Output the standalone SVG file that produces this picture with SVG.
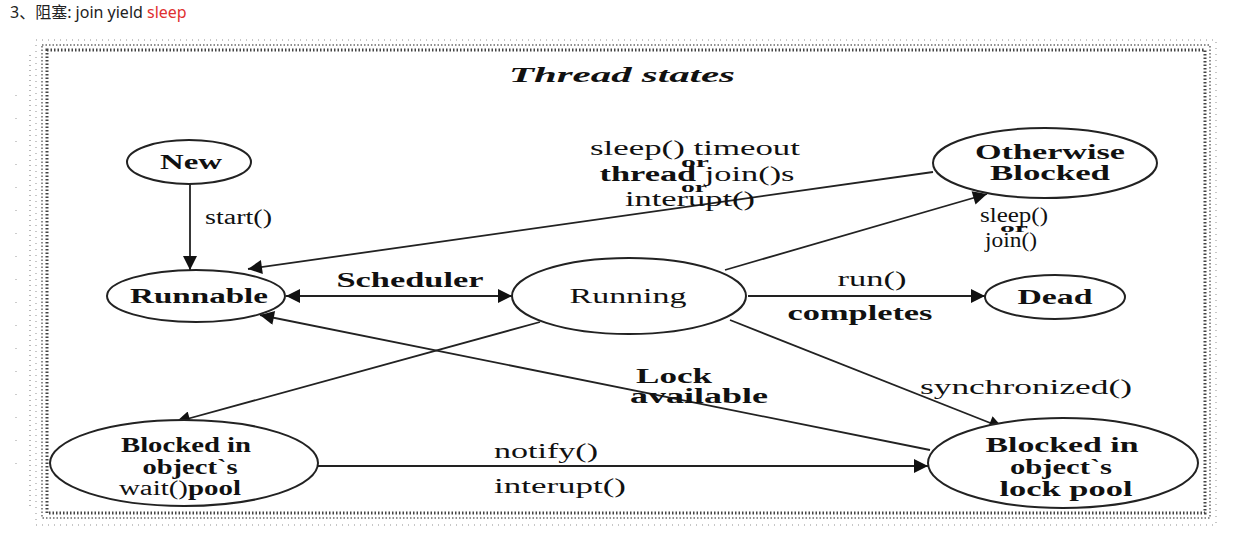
<svg xmlns="http://www.w3.org/2000/svg" width="1250" height="538" viewBox="0 0 1250 538">
<style>
.hdr{font-family:"Noto Sans","Noto Sans CJK SC",sans-serif;font-size:16px;fill:#222}
.t{font-family:"Liberation Serif","DejaVu Serif",serif;font-size:20px;fill:#111}
.b{font-weight:bold}
.node{fill:#fff;stroke:#222;stroke-width:2}
.edge{fill:none;stroke:#222;stroke-width:1.8}
.frame{fill:none;stroke:#444;stroke-dasharray:1.5 2}
</style>
<defs>
<marker id="ah" viewBox="0 0 10 10" refX="10" refY="5" markerWidth="16" markerHeight="14" markerUnits="userSpaceOnUse" orient="auto">
<path d="M0,0 L10,5 L0,10 z" fill="#111"/>
</marker>
<marker id="as" viewBox="0 0 10 10" refX="0" refY="5" markerWidth="16" markerHeight="14" markerUnits="userSpaceOnUse" orient="auto">
<path d="M10,0 L0,5 L10,10 z" fill="#111"/>
</marker>
</defs>
<rect width="1250" height="538" fill="#fff"/>
<text class="hdr" x="10" y="18">3、阻塞: join yield <tspan fill="#e03030">sleep</tspan></text>
<g id="frame">
<rect class="frame" x="47" y="50" width="1158" height="463" stroke-width="3"/>
<rect class="frame" x="42" y="45" width="1168" height="473" stroke-width="2" opacity="0.6"/>
<rect class="frame" x="36" y="40" width="1180" height="485" stroke-width="1.5" opacity="0.4" style="stroke-dasharray:1 5"/>
<line x1="30" y1="55" x2="30" y2="510" stroke="#666" stroke-width="1.5" stroke-dasharray="1 4" opacity="0.6"/>
<line x1="16" y1="95" x2="16" y2="470" stroke="#999" stroke-width="1" stroke-dasharray="1 22"/>
</g>
<text class="t b" x="622" y="82" text-anchor="middle" font-style="italic" font-size="23" textLength="226" lengthAdjust="spacingAndGlyphs">Thread states</text>
<g id="connectors">
<line class="edge" x1="190" y1="184" x2="190" y2="270" marker-end="url(#ah)"/>
<line class="edge" x1="286" y1="296" x2="512" y2="296" marker-start="url(#as)" marker-end="url(#ah)"/>
<line class="edge" x1="933" y1="172" x2="248" y2="269" marker-end="url(#ah)"/>
<line class="edge" x1="725" y1="270" x2="987" y2="194" marker-end="url(#ah)"/>
<line class="edge" x1="748" y1="296" x2="985" y2="296" marker-end="url(#ah)"/>
<line class="edge" x1="540" y1="322" x2="176" y2="422" marker-end="url(#ah)"/>
<line class="edge" x1="730" y1="320" x2="1003" y2="428" marker-end="url(#ah)"/>
<line class="edge" x1="930" y1="450" x2="260" y2="315" marker-end="url(#ah)"/>
<line class="edge" x1="318" y1="466" x2="928" y2="466" stroke="#2d4a3e" stroke-width="2.5" marker-end="url(#ah)"/>
<text class="t" x="205" y="224" textLength="67" lengthAdjust="spacingAndGlyphs">start()</text>
<text class="t b" x="410" y="287" text-anchor="middle" textLength="147" lengthAdjust="spacingAndGlyphs">Scheduler</text>
<text class="t" text-anchor="middle" font-size="18"><tspan x="695" y="155" textLength="210" lengthAdjust="spacingAndGlyphs">sleep() timeout</tspan><tspan x="695" y="167" class="b" font-size="14" textLength="28" lengthAdjust="spacingAndGlyphs">or</tspan><tspan x="697" y="181" textLength="195" lengthAdjust="spacingAndGlyphs"><tspan class="b">thread</tspan> join()s</tspan><tspan x="694" y="192" class="b" font-size="14" textLength="26" lengthAdjust="spacingAndGlyphs">or</tspan><tspan x="690" y="206" textLength="130" lengthAdjust="spacingAndGlyphs">interupt()</tspan></text>
<text class="t" text-anchor="middle" font-size="17"><tspan x="1014" y="222" textLength="68" lengthAdjust="spacingAndGlyphs">sleep()</tspan><tspan x="1014" y="232" class="b" font-size="13" textLength="28" lengthAdjust="spacingAndGlyphs">or</tspan><tspan x="1011" y="247" textLength="52" lengthAdjust="spacingAndGlyphs">join()</tspan></text>
<text class="t" x="872" y="286" text-anchor="middle" textLength="69" lengthAdjust="spacingAndGlyphs">run()</text>
<text class="t b" x="860" y="320" text-anchor="middle" textLength="145" lengthAdjust="spacingAndGlyphs">completes</text>
<text class="t b" x="674" y="383" text-anchor="middle" textLength="76" lengthAdjust="spacingAndGlyphs">Lock</text>
<text class="t b" x="699" y="403" text-anchor="middle" textLength="138" lengthAdjust="spacingAndGlyphs">available</text>
<text class="t" x="1026" y="394" text-anchor="middle" textLength="212" lengthAdjust="spacingAndGlyphs">synchronized()</text>
<text class="t" x="546" y="458" text-anchor="middle" textLength="104" lengthAdjust="spacingAndGlyphs">notify()</text>
<text class="t" x="560" y="493" text-anchor="middle" textLength="132" lengthAdjust="spacingAndGlyphs">interupt()</text>
</g>
<g id="new">
<ellipse class="node" cx="189" cy="162" rx="62" ry="22"/>
<text class="t b" x="191" y="169" text-anchor="middle" textLength="62" lengthAdjust="spacingAndGlyphs">New</text>
</g>
<g id="runnable">
<ellipse class="node" cx="196" cy="296" rx="89" ry="26"/>
<text class="t b" x="199" y="303" text-anchor="middle" textLength="138" lengthAdjust="spacingAndGlyphs">Runnable</text>
</g>
<g id="running">
<ellipse class="node" cx="629" cy="296" rx="117" ry="38"/>
<text class="t" x="628" y="303" text-anchor="middle" textLength="117" lengthAdjust="spacingAndGlyphs">Running</text>
</g>
<g id="otherwise">
<ellipse class="node" cx="1045" cy="163" rx="112" ry="35"/>
<text class="t b" x="1050" y="159" text-anchor="middle" textLength="150" lengthAdjust="spacingAndGlyphs">Otherwise</text>
<text class="t b" x="1050" y="180" text-anchor="middle" textLength="120" lengthAdjust="spacingAndGlyphs">Blocked</text>
</g>
<g id="dead">
<ellipse class="node" cx="1055" cy="297" rx="70" ry="22"/>
<text class="t b" x="1055" y="304" text-anchor="middle" textLength="75" lengthAdjust="spacingAndGlyphs">Dead</text>
</g>
<g id="waitpool">
<ellipse class="node" cx="184" cy="463" rx="134" ry="43"/>
<text class="t b" x="186" y="452" text-anchor="middle" textLength="130" lengthAdjust="spacingAndGlyphs">Blocked in</text>
<text class="t b" x="190" y="474" text-anchor="middle" textLength="95" lengthAdjust="spacingAndGlyphs">object`s</text>
<text class="t b" x="180" y="495" text-anchor="middle" textLength="122" lengthAdjust="spacingAndGlyphs"><tspan font-weight="normal">wait()</tspan>pool</text>
</g>
<g id="lockpool">
<ellipse class="node" cx="1063" cy="463" rx="135" ry="45"/>
<text class="t b" x="1062" y="452" text-anchor="middle" textLength="153" lengthAdjust="spacingAndGlyphs">Blocked in</text>
<text class="t b" x="1061" y="474" text-anchor="middle" textLength="102" lengthAdjust="spacingAndGlyphs">object`s</text>
<text class="t b" x="1066" y="496" text-anchor="middle" textLength="133" lengthAdjust="spacingAndGlyphs">lock pool</text>
</g>
</svg>
